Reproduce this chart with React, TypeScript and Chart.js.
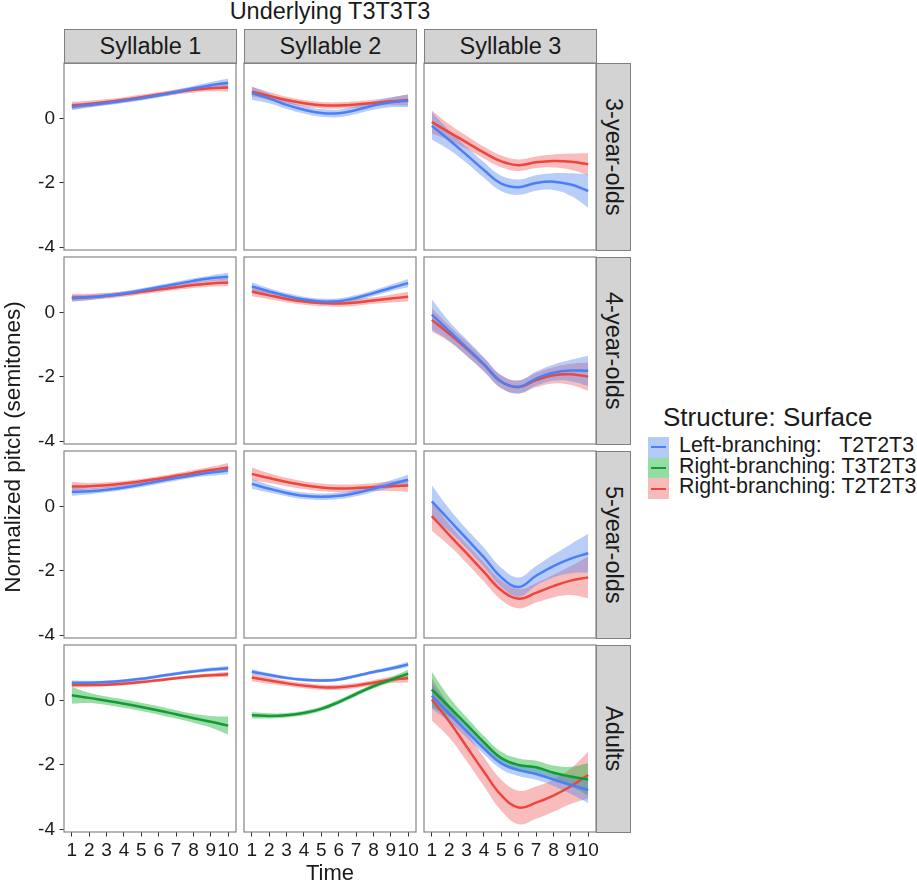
import React, { useEffect, useRef } from "react";
import { Chart, registerables } from "chart.js";

Chart.register(...registerables);

const FONT = "'Liberation Sans', Arial, Helvetica, sans-serif";

// ---------- categories, ticks, labels ----------
const timePoints = [1, 2, 3, 4, 5, 6, 7, 8, 9, 10];
const xTickValues = [1, 2, 3, 4, 5, 6, 7, 8, 9, 10];
const yTickValues = [-4, -2, 0];
const syllableLabels = ["Syllable 1", "Syllable 2", "Syllable 3"];
const ageLabels = ["3-year-olds", "4-year-olds", "5-year-olds", "Adults"];
const seriesLabels = [
  "Left-branching:   T2T2T3",
  "Right-branching: T3T2T3",
  "Right-branching: T2T2T3",
];
const chartTitle = "Underlying T3T3T3";
const legendTitle = "Structure: Surface";
const xAxisTitle = "Time";
const yAxisTitle = "Normalized pitch (semitones)";

// ---------- data: smoothed means and ribbon half-widths ----------
// 3-year-olds
const a3s1Left = [0.36, 0.42, 0.48, 0.55, 0.63, 0.72, 0.82, 0.93, 1.03, 1.11];
const a3s1LeftCI = [0.1, 0.08, 0.07, 0.07, 0.07, 0.07, 0.07, 0.08, 0.1, 0.13];
const a3s1RightT2 = [0.4, 0.45, 0.51, 0.58, 0.66, 0.74, 0.82, 0.89, 0.94, 0.96];
const a3s1RightT2CI = [0.12, 0.1, 0.09, 0.08, 0.08, 0.08, 0.08, 0.09, 0.1, 0.13];
const a3s2Left = [0.78, 0.62, 0.42, 0.27, 0.17, 0.16, 0.26, 0.4, 0.5, 0.55];
const a3s2LeftCI = [0.2, 0.15, 0.13, 0.12, 0.12, 0.12, 0.12, 0.13, 0.15, 0.2];
const a3s2RightT2 = [0.83, 0.7, 0.57, 0.47, 0.41, 0.4, 0.43, 0.48, 0.53, 0.57];
const a3s2RightT2CI = [0.15, 0.12, 0.1, 0.1, 0.1, 0.1, 0.1, 0.1, 0.12, 0.17];
const a3s3Left = [-0.23, -0.67, -1.13, -1.6, -2.02, -2.13, -2.0, -1.96, -2.05, -2.25];
const a3s3LeftCI = [0.42, 0.3, 0.25, 0.24, 0.24, 0.24, 0.24, 0.26, 0.35, 0.52];
const a3s3RightT2 = [-0.11, -0.43, -0.74, -1.06, -1.33, -1.45, -1.36, -1.32, -1.34, -1.42];
const a3s3RightT2CI = [0.36, 0.25, 0.2, 0.18, 0.18, 0.18, 0.18, 0.2, 0.25, 0.34];

// 4-year-olds
const a4s1Left = [0.44, 0.47, 0.52, 0.59, 0.68, 0.78, 0.88, 0.98, 1.06, 1.11];
const a4s1LeftCI = [0.1, 0.08, 0.07, 0.07, 0.07, 0.07, 0.07, 0.08, 0.09, 0.12];
const a4s1RightT2 = [0.46, 0.48, 0.52, 0.57, 0.64, 0.71, 0.78, 0.85, 0.9, 0.93];
const a4s1RightT2CI = [0.12, 0.1, 0.09, 0.08, 0.08, 0.08, 0.08, 0.09, 0.1, 0.12];
const a4s2Left = [0.81, 0.65, 0.51, 0.4, 0.34, 0.35, 0.45, 0.6, 0.76, 0.91];
const a4s2LeftCI = [0.13, 0.1, 0.09, 0.09, 0.09, 0.09, 0.09, 0.09, 0.1, 0.13];
const a4s2RightT2 = [0.65, 0.53, 0.42, 0.34, 0.29, 0.28, 0.31, 0.37, 0.43, 0.49];
const a4s2RightT2CI = [0.15, 0.12, 0.1, 0.1, 0.1, 0.1, 0.1, 0.1, 0.12, 0.15];
const a4s3Left = [-0.07, -0.58, -1.09, -1.61, -2.15, -2.31, -2.05, -1.87, -1.8, -1.81];
const a4s3LeftCI = [0.47, 0.3, 0.25, 0.22, 0.2, 0.2, 0.22, 0.25, 0.33, 0.47];
const a4s3RightT2 = [-0.23, -0.66, -1.12, -1.62, -2.15, -2.31, -2.1, -1.95, -1.92, -1.99];
const a4s3RightT2CI = [0.36, 0.25, 0.22, 0.2, 0.2, 0.2, 0.22, 0.25, 0.33, 0.44];

// 5-year-olds
const a5s1Left = [0.45, 0.47, 0.52, 0.59, 0.68, 0.78, 0.88, 0.97, 1.05, 1.12];
const a5s1LeftCI = [0.12, 0.09, 0.08, 0.08, 0.08, 0.08, 0.08, 0.08, 0.1, 0.12];
const a5s1RightT2 = [0.62, 0.63, 0.66, 0.71, 0.78, 0.86, 0.95, 1.04, 1.13, 1.21];
const a5s1RightT2CI = [0.15, 0.1, 0.09, 0.08, 0.08, 0.08, 0.08, 0.09, 0.1, 0.14];
const a5s2Left = [0.7, 0.55, 0.42, 0.33, 0.3, 0.33, 0.42, 0.55, 0.69, 0.83];
const a5s2LeftCI = [0.15, 0.12, 0.1, 0.1, 0.1, 0.1, 0.1, 0.1, 0.12, 0.15];
const a5s2RightT2 = [1.01, 0.88, 0.76, 0.66, 0.59, 0.56, 0.57, 0.6, 0.63, 0.65];
const a5s2RightT2CI = [0.2, 0.15, 0.13, 0.12, 0.12, 0.12, 0.12, 0.12, 0.15, 0.2];
const a5s3Left = [0.16, -0.42, -1.0, -1.58, -2.2, -2.5, -2.15, -1.85, -1.62, -1.45];
const a5s3LeftCI = [0.5, 0.35, 0.3, 0.3, 0.3, 0.3, 0.3, 0.35, 0.45, 0.6];
const a5s3RightT2 = [-0.3, -0.88, -1.45, -2.03, -2.6, -2.86, -2.68, -2.47, -2.3, -2.2];
const a5s3RightT2CI = [0.45, 0.33, 0.3, 0.3, 0.3, 0.3, 0.3, 0.35, 0.45, 0.65];

// Adults
const adS1Left = [0.55, 0.55, 0.57, 0.61, 0.67, 0.75, 0.83, 0.9, 0.96, 1.0];
const adS1LeftCI = [0.07, 0.06, 0.05, 0.05, 0.05, 0.05, 0.05, 0.05, 0.06, 0.07];
const adS1RightT3 = [0.16, 0.08, -0.01, -0.1, -0.2, -0.31, -0.43, -0.55, -0.66, -0.78];
const adS1RightT3CI = [0.26, 0.16, 0.13, 0.13, 0.13, 0.13, 0.13, 0.14, 0.18, 0.28];
const adS1RightT2 = [0.48, 0.48, 0.49, 0.52, 0.57, 0.63, 0.69, 0.74, 0.78, 0.81];
const adS1RightT2CI = [0.08, 0.06, 0.05, 0.05, 0.05, 0.05, 0.05, 0.05, 0.06, 0.08];
const adS2Left = [0.89, 0.79, 0.7, 0.64, 0.62, 0.65, 0.76, 0.88, 0.99, 1.12];
const adS2LeftCI = [0.08, 0.06, 0.05, 0.05, 0.05, 0.05, 0.05, 0.05, 0.06, 0.08];
const adS2RightT3 = [-0.46, -0.48, -0.46, -0.39, -0.26, -0.05, 0.2, 0.44, 0.64, 0.83];
const adS2RightT3CI = [0.1, 0.08, 0.07, 0.07, 0.07, 0.07, 0.07, 0.07, 0.08, 0.12];
const adS2RightT2 = [0.71, 0.62, 0.53, 0.46, 0.41, 0.41, 0.46, 0.55, 0.64, 0.69];
const adS2RightT2CI = [0.12, 0.1, 0.08, 0.08, 0.08, 0.08, 0.08, 0.08, 0.1, 0.13];
const adS3Left = [0.14, -0.41, -0.95, -1.49, -1.95, -2.16, -2.28, -2.45, -2.62, -2.78];
const adS3LeftCI = [0.4, 0.25, 0.2, 0.18, 0.18, 0.18, 0.18, 0.2, 0.28, 0.4];
const adS3RightT3 = [0.34, -0.2, -0.74, -1.3, -1.79, -2.0, -2.07, -2.24, -2.36, -2.45];
const adS3RightT3CI = [0.55, 0.3, 0.22, 0.2, 0.2, 0.2, 0.2, 0.22, 0.3, 0.5];
const adS3RightT2 = [0.03, -0.65, -1.43, -2.21, -2.94, -3.32, -3.17, -2.95, -2.66, -2.31];
const adS3RightT2CI = [0.65, 0.5, 0.45, 0.45, 0.48, 0.52, 0.5, 0.5, 0.55, 0.73];

type Curve = { mean: number[]; ci: number[] } | null;
const c = (mean: number[], ci: number[]): Curve => ({ mean, ci });

// [row = age][col = syllable][series: Left T2T2T3, Right T3T2T3, Right T2T2T3]
const panelSeries: Curve[][][] = [
  [
    [c(a3s1Left, a3s1LeftCI), null, c(a3s1RightT2, a3s1RightT2CI)],
    [c(a3s2Left, a3s2LeftCI), null, c(a3s2RightT2, a3s2RightT2CI)],
    [c(a3s3Left, a3s3LeftCI), null, c(a3s3RightT2, a3s3RightT2CI)],
  ],
  [
    [c(a4s1Left, a4s1LeftCI), null, c(a4s1RightT2, a4s1RightT2CI)],
    [c(a4s2Left, a4s2LeftCI), null, c(a4s2RightT2, a4s2RightT2CI)],
    [c(a4s3Left, a4s3LeftCI), null, c(a4s3RightT2, a4s3RightT2CI)],
  ],
  [
    [c(a5s1Left, a5s1LeftCI), null, c(a5s1RightT2, a5s1RightT2CI)],
    [c(a5s2Left, a5s2LeftCI), null, c(a5s2RightT2, a5s2RightT2CI)],
    [c(a5s3Left, a5s3LeftCI), null, c(a5s3RightT2, a5s3RightT2CI)],
  ],
  [
    [c(adS1Left, adS1LeftCI), c(adS1RightT3, adS1RightT3CI), c(adS1RightT2, adS1RightT2CI)],
    [c(adS2Left, adS2LeftCI), c(adS2RightT3, adS2RightT3CI), c(adS2RightT2, adS2RightT2CI)],
    [c(adS3Left, adS3LeftCI), c(adS3RightT3, adS3RightT3CI), c(adS3RightT2, adS3RightT2CI)],
  ],
];

// ---------- styles / layout ----------
const lineColors = ["#4B7FF5", "#139A34", "#EE453D"];
const ribbonColors = ["rgba(80,130,240,0.40)", "rgba(30,180,60,0.45)", "rgba(240,80,80,0.38)"];
const keyFills = ["#B4CBF8", "#93DCA2", "#F8BBBB"];
const lineOrder = [1, 2, 3];

const PANEL_LEFT = [64, 244, 424];
const PANEL_TOP = [63, 257, 451, 645];
const PANEL_W = 172;
const PANEL_H = 187;
const PAD = 2;
const YAXW = 44;
const XAXH = 32;
const X_MIN = 0.55;
const X_MAX = 10.45;
const Y_MIN = -4.08;
const Y_MAX = 1.72;
const TICK_FONT = 19;
const STRIP_FILL = "#D3D3D3";
const STRIP_BORDER = "#7F7F7F";
const TEXT = "#1A1A1A";

const panelBorder = {
  id: "panelBorder",
  afterDraw(chart: any) {
    const { ctx, chartArea } = chart;
    ctx.save();
    ctx.strokeStyle = "#858585";
    ctx.lineWidth = 1.2;
    ctx.strokeRect(chartArea.left, chartArea.top, chartArea.right - chartArea.left, chartArea.bottom - chartArea.top);
    ctx.restore();
  },
};

function Panel({ row, col }: { row: number; col: number }) {
  const ref = useRef<HTMLCanvasElement>(null);
  const showY = col === 0;
  const showX = row === 3;
  const width = PANEL_W + 2 * PAD + (showY ? YAXW : 0);
  const height = PANEL_H + 2 * PAD + (showX ? XAXH : 0);
  const left = PANEL_LEFT[col] - PAD - (showY ? YAXW : 0);
  const top = PANEL_TOP[row] - PAD;

  useEffect(() => {
    if (!ref.current) return;
    const curves = panelSeries[row][col];
    const datasets: any[] = [];
    curves.forEach((cv, si) => {
      if (!cv) return;
      const upperIndex = datasets.length;
      datasets.push({
        data: timePoints.map((t, i) => ({ x: t, y: cv.mean[i] + cv.ci[i] })),
        borderColor: "transparent",
        borderWidth: 1,
        pointRadius: 0,
        fill: false,
        tension: 0.4,
        order: 10,
      });
      datasets.push({
        data: timePoints.map((t, i) => ({ x: t, y: cv.mean[i] - cv.ci[i] })),
        borderColor: "transparent",
        borderWidth: 1,
        backgroundColor: ribbonColors[si],
        pointRadius: 0,
        fill: upperIndex,
        tension: 0.4,
        order: 10,
      });
    });
    curves.forEach((cv, si) => {
      if (!cv) return;
      datasets.push({
        data: timePoints.map((t, i) => ({ x: t, y: cv.mean[i] })),
        borderColor: lineColors[si],
        borderWidth: 2.5,
        pointRadius: 0,
        fill: false,
        tension: 0.4,
        order: lineOrder[si],
      });
    });

    const chart = new Chart(ref.current, {
      type: "line",
      data: { datasets },
      options: {
        animation: false,
        responsive: false,
        maintainAspectRatio: false,
        events: [],
        layout: { padding: PAD },
        plugins: { legend: { display: false }, tooltip: { enabled: false }, title: { display: false } },
        scales: {
          x: {
            type: "linear",
            min: X_MIN,
            max: X_MAX,
            display: showX,
            afterBuildTicks: (s: any) => {
              s.ticks = xTickValues.map((v) => ({ value: v }));
            },
            afterFit: (s: any) => {
              if (!showX) {
                s.height = 0;
                s.width = 0;
              } else {
                s.height = XAXH;
              }
              s.paddingLeft = 0;
              s.paddingRight = 0;
              s.paddingTop = 0;
              s.paddingBottom = 0;
            },
            ticks: {
              autoSkip: false,
              maxRotation: 0,
              minRotation: 0,
              padding: 3,
              color: TEXT,
              font: { family: FONT, size: TICK_FONT },
              callback: (v: any) => String(v),
            },
            grid: { drawOnChartArea: false, drawTicks: true, tickLength: 4.5, color: "#333333", lineWidth: 1 },
            border: { display: false },
          },
          y: {
            type: "linear",
            min: Y_MIN,
            max: Y_MAX,
            display: showY,
            afterBuildTicks: (s: any) => {
              s.ticks = yTickValues.map((v) => ({ value: v }));
            },
            afterFit: (s: any) => {
              if (!showY) {
                s.width = 0;
                s.height = 0;
              } else {
                s.width = YAXW;
              }
              s.paddingTop = 0;
              s.paddingBottom = 0;
              s.paddingLeft = 0;
              s.paddingRight = 0;
            },
            ticks: {
              padding: 4.5,
              color: TEXT,
              font: { family: FONT, size: TICK_FONT },
              callback: (v: any) => String(v),
            },
            grid: { drawOnChartArea: false, drawTicks: true, tickLength: 4.5, color: "#333333", lineWidth: 1 },
            border: { display: false },
          },
        },
      } as any,
      plugins: [panelBorder],
    });
    return () => chart.destroy();
  }, [row, col]);

  return (
    <canvas
      ref={ref}
      width={width}
      height={height}
      style={{ position: "absolute", left, top, width, height }}
    />
  );
}

export default function App() {
  const panels: React.ReactNode[] = [];
  for (let r = 0; r < ageLabels.length; r++) {
    for (let col = 0; col < syllableLabels.length; col++) {
      panels.push(<Panel key={`p${r}-${col}`} row={r} col={col} />);
    }
  }
  return (
    <div
      style={{
        position: "absolute",
        left: 0,
        top: 0,
        width: 917,
        height: 885,
        background: "#ffffff",
        fontFamily: FONT,
        color: TEXT,
        overflow: "hidden",
      }}
    >
      {/* Title */}
      <div
        style={{
          position: "absolute",
          left: 130,
          top: 0,
          width: 400,
          textAlign: "center",
          fontSize: 23.5,
          lineHeight: "23.5px",
          whiteSpace: "nowrap",
        }}
      >
        {chartTitle}
      </div>

      {/* Column strips */}
      {syllableLabels.map((lab, i) => (
        <div
          key={lab}
          style={{
            position: "absolute",
            left: PANEL_LEFT[i],
            top: 29,
            width: PANEL_W + 1,
            height: 35,
            boxSizing: "border-box",
            background: STRIP_FILL,
            border: `1.2px solid ${STRIP_BORDER}`,
            display: "flex",
            alignItems: "center",
            justifyContent: "center",
            fontSize: 23.5,
            whiteSpace: "nowrap",
          }}
        >
          {lab}
        </div>
      ))}

      {/* Row strips */}
      {ageLabels.map((lab, i) => (
        <div
          key={lab}
          style={{
            position: "absolute",
            left: PANEL_LEFT[2] + PANEL_W,
            top: PANEL_TOP[i],
            width: 35,
            height: PANEL_H + 1,
            boxSizing: "border-box",
            background: STRIP_FILL,
            border: `1.2px solid ${STRIP_BORDER}`,
            display: "flex",
            alignItems: "center",
            justifyContent: "center",
            fontSize: 23.5,
            writingMode: "vertical-rl",
            whiteSpace: "nowrap",
          }}
        >
          {lab}
        </div>
      ))}

      {panels}

      {/* Y axis title */}
      <div
        style={{
          position: "absolute",
          left: 13 - 300,
          top: 447 - 12,
          width: 600,
          height: 24,
          lineHeight: "24px",
          textAlign: "center",
          fontSize: 22.5,
          transform: "rotate(-90deg)",
          whiteSpace: "nowrap",
        }}
      >
        {yAxisTitle}
      </div>

      {/* X axis title */}
      <div
        style={{
          position: "absolute",
          left: 230,
          top: 862,
          width: 200,
          textAlign: "center",
          fontSize: 22,
          lineHeight: "22px",
          whiteSpace: "nowrap",
        }}
      >
        {xAxisTitle}
      </div>

      {/* Legend */}
      <div
        style={{
          position: "absolute",
          left: 663,
          top: 404,
          fontSize: 26,
          lineHeight: "26px",
          whiteSpace: "nowrap",
        }}
      >
        {legendTitle}
      </div>
      {seriesLabels.map((lab, i) => (
        <React.Fragment key={lab}>
          <div
            style={{
              position: "absolute",
              left: 648,
              top: 437 + i * 20.7,
              width: 21,
              height: 20.7,
              background: keyFills[i],
            }}
          >
            <div
              style={{
                position: "absolute",
                left: 3,
                right: 3,
                top: 9.35,
                height: 2,
                background: lineColors[i],
              }}
            />
          </div>
          <div
            style={{
              position: "absolute",
              left: 679,
              top: 435 + i * 20.7,
              height: 20.7,
              fontSize: 21.4,
              lineHeight: "20.7px",
              whiteSpace: "pre",
            }}
          >
            {lab}
          </div>
        </React.Fragment>
      ))}
    </div>
  );
}
